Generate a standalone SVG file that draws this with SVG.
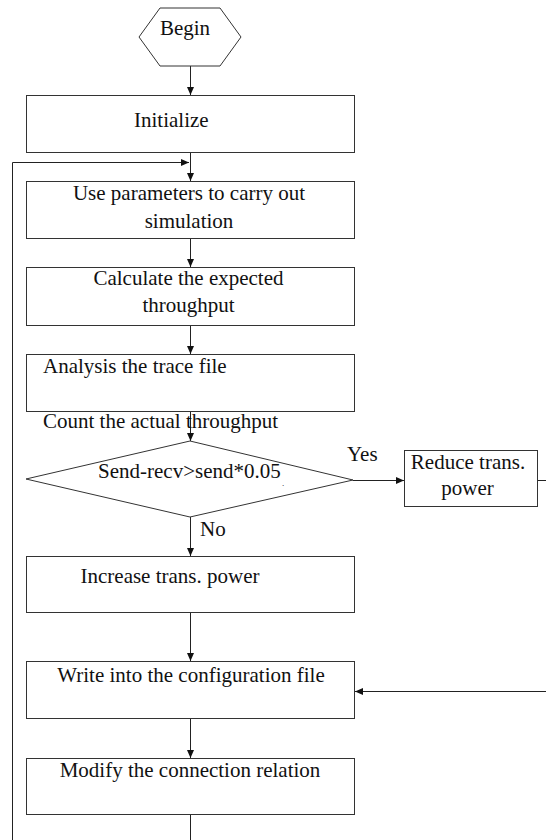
<svg xmlns="http://www.w3.org/2000/svg" width="546" height="840" viewBox="0 0 546 840">
<style>
.box{fill:#fff;stroke:#333;stroke-width:1}
.ln{fill:none;stroke:#222;stroke-width:1}
text{font-family:"Liberation Serif","Times New Roman",serif;font-size:21px;fill:#111}
.c{text-anchor:middle}
</style>
<defs>
<marker id="ah" markerWidth="8" markerHeight="7" refX="8" refY="3.5" orient="auto" markerUnits="userSpaceOnUse">
<path d="M0,0 L8,3.5 L0,7 z" fill="#111"/>
</marker>
</defs>
<rect width="546" height="840" fill="#fff"/>
<g id="connectors">
<path class="ln" d="M190.5,66 V95" marker-end="url(#ah)"/>
<path class="ln" d="M190.5,152 V181" marker-end="url(#ah)"/>
<path class="ln" d="M190.5,815 V870 H12.5 V162.5 H189" marker-end="url(#ah)"/>
<path class="ln" d="M190.5,239 V267" marker-end="url(#ah)"/>
<path class="ln" d="M190.5,326 V354" marker-end="url(#ah)"/>
<path class="ln" d="M190.5,412 V441" marker-end="url(#ah)"/>
<path class="ln" d="M353,480.5 H404" marker-end="url(#ah)"/>
<path class="ln" d="M190.5,517 V556" marker-end="url(#ah)"/>
<path class="ln" d="M190.5,613 V661" marker-end="url(#ah)"/>
<path class="ln" d="M538,480.5 H570 V691.5 H355" marker-end="url(#ah)"/>
<path class="ln" d="M190.5,719 V758" marker-end="url(#ah)"/>
<text x="347" y="461">Yes</text>
<text x="200" y="536">No</text>
</g>
<g id="begin">
<polygon class="box" points="139,37 160,8 220,8 241,37 220,66 160,66"/>
<text class="c" x="185" y="35">Begin</text>
</g>
<g id="initialize">
<rect class="box" x="26.5" y="95.5" width="328" height="57"/>
<text x="134" y="127">Initialize</text>
</g>
<g id="simulate">
<rect class="box" x="26.5" y="181.5" width="328" height="57"/>
<text class="c" x="189" y="200">Use parameters to carry out</text>
<text class="c" x="189" y="228">simulation</text>
</g>
<g id="expected">
<rect class="box" x="26.5" y="267.5" width="328" height="58"/>
<text class="c" x="188.5" y="285">Calculate the expected</text>
<text class="c" x="188.5" y="312">throughput</text>
</g>
<g id="analysis">
<rect class="box" x="26.5" y="354.5" width="328" height="57"/>
<text x="43" y="373">Analysis the trace file</text>
<text x="43" y="428">Count the actual throughput</text>
</g>
<g id="decision">
<polygon class="box" points="26,479 190,441 353,480 190,517"/>
<text x="98" y="478">Send-recv&gt;send*0.05</text>
<text x="282" y="486" style="font-size:9px">.</text>
</g>
<g id="reduce">
<rect class="box" x="404.5" y="450.5" width="133" height="56"/>
<text class="c" x="468" y="469">Reduce trans.</text>
<text class="c" x="467.5" y="495">power</text>
</g>
<g id="increase">
<rect class="box" x="26.5" y="556.5" width="328" height="56"/>
<text x="80.5" y="583">Increase trans. power</text>
</g>
<g id="write">
<rect class="box" x="26.5" y="661.5" width="328" height="57"/>
<text class="c" x="191" y="682">Write into the configuration file</text>
</g>
<g id="modify">
<rect class="box" x="26.5" y="758.5" width="328" height="56"/>
<text class="c" x="190" y="777">Modify the connection relation</text>
</g>
</svg>
